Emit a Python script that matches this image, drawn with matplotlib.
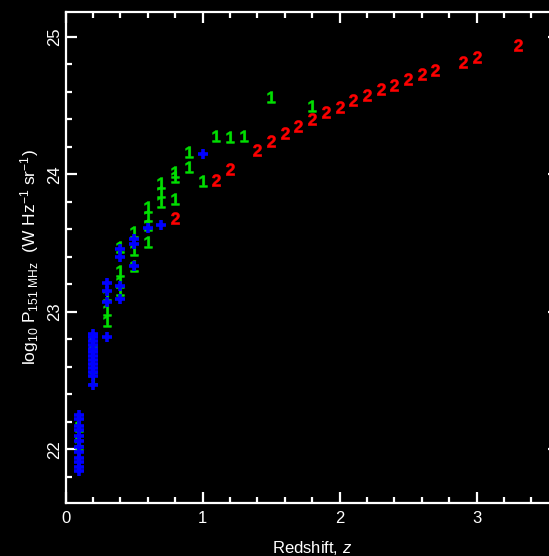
import numpy as np
import matplotlib
matplotlib.use("Agg")
import matplotlib.pyplot as plt
from matplotlib.ticker import MultipleLocator

# green "1" points
z1 = [0.1, 0.1, 0.1,
      0.2, 0.2, 0.2,
      0.3, 0.3, 0.3,
      0.4, 0.4, 0.4, 0.4,
      0.5, 0.5, 0.5,
      0.6, 0.6, 0.6, 0.6,
      0.7, 0.7, 0.7,
      0.8, 0.8, 0.8,
      0.9, 0.9,
      1.0, 1.1, 1.2, 1.3, 1.5, 1.8]
p1 = [22.17, 22.06, 22.03,
      22.78, 22.60, 22.51,
      23.12, 23.01, 22.93,
      23.47, 23.30, 23.22, 23.16,
      23.58, 23.45, 23.33,
      23.76, 23.70, 23.63, 23.51,
      23.94, 23.87, 23.80,
      24.02, 23.98, 23.82,
      24.16, 24.05,
      23.95, 24.28, 24.27, 24.28, 24.56, 24.50]

# red "2" points
z2 = [0.8, 1.1, 1.2, 1.4, 1.5, 1.6, 1.7, 1.8, 1.9, 2.0,
      2.1, 2.2, 2.3, 2.4, 2.5, 2.6, 2.7, 2.9, 3.0, 3.3]
p2 = [23.68, 23.96, 24.04, 24.18, 24.24, 24.30, 24.35, 24.40, 24.45, 24.49,
      24.54, 24.58, 24.62, 24.65, 24.69, 24.73, 24.76, 24.82, 24.85, 24.94]

# blue "+" points
z3 = [0.1] * 12 + [0.2] * 13 + [0.3] * 4 + [0.4] * 4 + [0.5] * 3 + [0.6, 0.7, 1.0]
p3 = [22.25, 22.22, 22.17, 22.14, 22.10, 22.06, 22.02, 21.98, 21.94, 21.91, 21.87, 21.84,
      22.84, 22.82, 22.79, 22.76, 22.73, 22.71, 22.68, 22.65, 22.62, 22.59, 22.56, 22.53, 22.47,
      23.21, 23.15, 23.07, 22.82,
      23.46, 23.40, 23.19, 23.09,
      23.53, 23.49, 23.33,
      23.61, 23.63, 24.15]

plt.rcParams['font.family'] = ['Liberation Sans', 'DejaVu Sans']
plt.rcParams['mathtext.fontset'] = 'custom'
plt.rcParams['mathtext.rm'] = 'Liberation Sans'
plt.rcParams['mathtext.it'] = 'Liberation Sans:italic'
plt.rcParams['mathtext.bf'] = 'Liberation Sans:bold'

fig = plt.figure(figsize=(5.49, 5.56), dpi=100, facecolor='black')
ax = fig.add_axes([65.5 / 549, 53 / 556, 3.6 * 137 / 549, 491 / 556])
ax.set_facecolor('black')

ax.scatter(z1, p1, marker=r'$\mathbf{1}$', s=70, color='#00e000', linewidths=0.4, zorder=2)
ax.scatter(z2, p2, marker=r'$\mathbf{2}$', s=75, color='#ff0000', linewidths=0.4, zorder=2)
ax.scatter(z3, p3, marker='+', s=55, color='#0000ff', linewidths=2.6, zorder=3)

ax.set_xlim(0, 3.6)
ax.set_ylim(21.61, 25.18)

ax.xaxis.set_major_locator(MultipleLocator(1))
ax.xaxis.set_minor_locator(MultipleLocator(0.2))
ax.yaxis.set_major_locator(MultipleLocator(1))
ax.yaxis.set_minor_locator(MultipleLocator(0.2))

for s in ax.spines.values():
    s.set_color('white')
    s.set_linewidth(1.6)

ax.tick_params(which='both', direction='in', colors='white', top=True, right=True,
               width=1.6, labelsize=12)
ax.tick_params(which='major', length=8)
ax.tick_params(which='minor', length=4)
ax.tick_params(axis='x', pad=6)
ax.tick_params(axis='y', pad=2.5)
for lab in ax.get_yticklabels():
    lab.set_rotation(90)
    lab.set_va('center')

ax.set_xlabel(r'Redshift, $\mathit{z}$', color='white', fontsize=12, labelpad=9)
ax.set_ylabel(r'log$_{10}$ P$_{151\ \mathrm{MHz}}$  (W Hz$^{-1}$ sr$^{-1}$)',
              color='white', fontsize=12.5, labelpad=4)

fig.savefig('out.png', dpi=100, facecolor='black')
